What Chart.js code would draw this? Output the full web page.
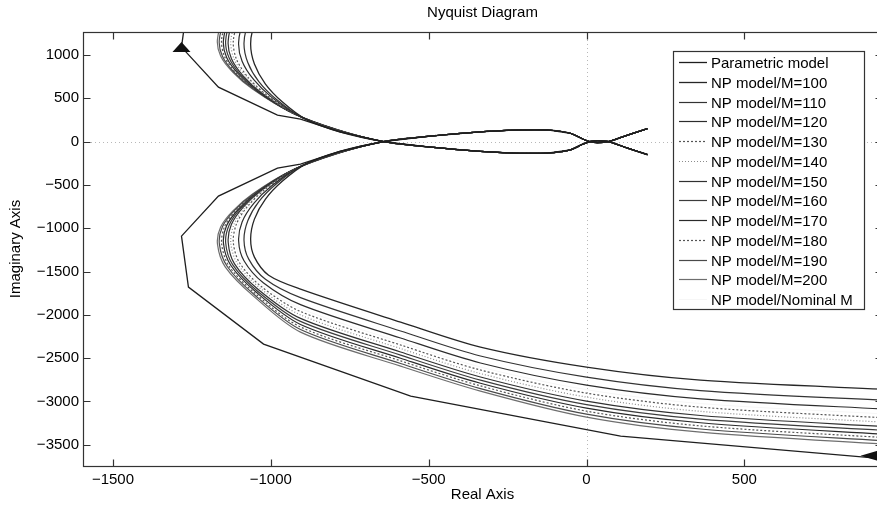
<!DOCTYPE html>
<html>
<head>
<meta charset="utf-8">
<title>Nyquist Diagram</title>
<script src="https://cdn.jsdelivr.net/npm/chart.js@4.4.1/dist/chart.umd.min.js"></script>
<style>
  html, body { margin: 0; padding: 0; background: #fff; overflow: hidden; }
  #wrap { width: 890px; height: 505px; }
</style>
</head>
<body>
<div id="wrap"><canvas id="nyquist" width="890" height="505"></canvas></div>
<script>
// axis ticks
const xTicks = [-1500, -1000, -500, 0, 500];
const yTicks = [-3500, -3000, -2500, -2000, -1500, -1000, -500, 0, 500, 1000];

// positive-frequency branch of every model (Re, Im),
// from the lower right edge round the left bend to the crossing near -643
const paramRe = [1000, 108, -557, -1023, -1261, -1283, -1166, -979, -906, -779, -643];
const paramIm = [-3680, -3401, -2939, -2338, -1680, -1091, -629, -306, -260, -110, 0];

const np100Re = [1000, 361, 0, -336, -589, -906, -1007, -1052, -1064, -1052, -1017, -963, -890, -779, -643];
const np100Im = [-2869, -2754, -2604, -2373, -2084, -1703, -1542, -1334, -1126, -895, -664, -456, -260, -110, 0];
const np110Re = [1000, 361, 0, -336, -589, -906, -1017, -1070, -1085, -1073, -1038, -982, -900, -782, -643];
const np110Im = [-2996, -2874, -2719, -2475, -2186, -1802, -1590, -1357, -1138, -913, -692, -486, -276, -117, 0];
const np120Re = [1000, 361, 0, -336, -589, -906, -1024, -1085, -1102, -1091, -1054, -997, -907, -785, -643];
const np120Im = [-3098, -2970, -2812, -2556, -2267, -1882, -1629, -1375, -1147, -928, -714, -510, -289, -122, 0];
const np130Re = [1000, 361, 0, -336, -589, -906, -1032, -1100, -1119, -1108, -1071, -1012, -915, -787, -643];
const np130Im = [-3200, -3066, -2904, -2637, -2348, -1961, -1668, -1394, -1156, -943, -736, -534, -302, -128, 0];
const np140Re = [1000, 361, 0, -336, -589, -906, -1036, -1107, -1127, -1116, -1079, -1020, -919, -789, -643];
const np140Im = [-3251, -3114, -2950, -2678, -2389, -2001, -1687, -1403, -1161, -950, -747, -546, -309, -130, 0];
const np150Re = [1000, 361, 0, -336, -589, -906, -1040, -1115, -1135, -1125, -1088, -1028, -923, -790, -643];
const np150Im = [-3301, -3162, -2996, -2718, -2429, -2041, -1707, -1412, -1165, -958, -759, -558, -315, -133, 0];
const np160Re = [1000, 361, 0, -336, -589, -906, -1043, -1121, -1143, -1132, -1095, -1034, -926, -791, -643];
const np160Im = [-3346, -3204, -3037, -2754, -2465, -2076, -1724, -1420, -1170, -964, -768, -569, -321, -136, 0];
const np170Re = [1000, 361, 0, -336, -589, -906, -1046, -1127, -1150, -1140, -1102, -1041, -929, -792, -643];
const np170Im = [-3391, -3246, -3077, -2790, -2501, -2111, -1740, -1428, -1174, -970, -778, -579, -326, -138, 0];
const np180Re = [1000, 361, 0, -336, -589, -906, -1049, -1133, -1156, -1146, -1109, -1047, -932, -793, -643];
const np180Im = [-3429, -3282, -3112, -2820, -2531, -2140, -1755, -1435, -1177, -976, -786, -588, -331, -140, 0];
const np190Re = [1000, 361, 0, -336, -589, -906, -1052, -1138, -1163, -1153, -1115, -1052, -935, -794, -643];
const np190Im = [-3467, -3318, -3146, -2851, -2562, -2170, -1769, -1442, -1181, -981, -795, -597, -336, -142, 0];
const np200Re = [1000, 361, 0, -336, -589, -906, -1055, -1144, -1169, -1159, -1121, -1058, -938, -795, -643];
const np200Im = [-3505, -3354, -3181, -2881, -2592, -2200, -1784, -1449, -1184, -987, -803, -606, -341, -144, 0];
const npNomRe = [1000, 361, 0, -336, -589, -906, -1029, -1093, -1111, -1100, -1064, -1006, -912, -786, -643];
const npNomIm = [-3155, -3024, -2864, -2602, -2313, -1927, -1651, -1386, -1152, -936, -727, -524, -296, -125, 0];

// small loop and tail after the crossing, common to all models
const loopRe = [-494, -336, -231, -124, -51, -12, 10, 35, 70, 130, 193];
const loopIm = [64, 113, 133, 134, 96, 30, 0, -12, 0, 75, 150];

// direction arrows on the parametric curve (tip position)
const arrowRe = [-1283, 868];
const arrowIm = [1150, -3626];
const arrowDir = ['up', 'left'];

const curves = [
    { label: 'Parametric model', re: paramRe, im: paramIm, color: '#1e1e1e', dash: [], tension: 0, width: 1.3 },
    { label: 'NP model/M=100', re: np100Re, im: np100Im, color: '#262626', dash: [], tension: 0.3, width: 1.3 },
    { label: 'NP model/M=110', re: np110Re, im: np110Im, color: '#333333', dash: [], tension: 0.3, width: 1.2 },
    { label: 'NP model/M=120', re: np120Re, im: np120Im, color: '#2c2c2c', dash: [], tension: 0.3, width: 1.2 },
    { label: 'NP model/M=130', re: np130Re, im: np130Im, color: '#555555', dash: [2, 2], tension: 0.3, width: 1.2 },
    { label: 'NP model/M=140', re: np140Re, im: np140Im, color: '#8c8c8c', dash: [1, 2], tension: 0.3, width: 1.2 },
    { label: 'NP model/M=150', re: np150Re, im: np150Im, color: '#303030', dash: [], tension: 0.3, width: 1.2 },
    { label: 'NP model/M=160', re: np160Re, im: np160Im, color: '#3c3c3c', dash: [], tension: 0.3, width: 1.2 },
    { label: 'NP model/M=170', re: np170Re, im: np170Im, color: '#2a2a2a', dash: [], tension: 0.3, width: 1.2 },
    { label: 'NP model/M=180', re: np180Re, im: np180Im, color: '#555555', dash: [2, 2], tension: 0.3, width: 1.2 },
    { label: 'NP model/M=190', re: np190Re, im: np190Im, color: '#4a4a4a', dash: [], tension: 0.3, width: 1.2 },
    { label: 'NP model/M=200', re: np200Re, im: np200Im, color: '#6e6e6e', dash: [], tension: 0.3, width: 1.2 },
    { label: 'NP model/Nominal M', re: npNomRe, im: npNomIm, color: '#f6f6f6', dash: [], tension: 0.3, width: 1 }
];

// full Nyquist curve: mirrored (negative frequency) branch, a break, then the branch itself
function nyquistPoints(re, im) {
    const pos = re.map((x, i) => ({ x: x, y: im[i] }));
    const neg = pos.map(p => ({ x: p.x, y: -p.y })).reverse();
    return neg.concat([{ x: null, y: null }], pos);
}

const datasets = curves.map(c => ({
    label: c.label,
    data: nyquistPoints(c.re.concat(loopRe), c.im.concat(loopIm)),
    showLine: true,
    borderColor: c.color,
    borderWidth: c.width,
    borderDash: c.dash,
    tension: c.tension,
    pointRadius: 0,
    fill: false
}));

const FONT = '"Liberation Sans", Arial, Helvetica, sans-serif';
Chart.defaults.font.family = FONT;
Chart.defaults.font.size = 15;
Chart.defaults.color = '#000';

const minus = v => String(v).replace('-', '\u2212');

// dotted real / imaginary axis lines
const zeroLines = {
    id: 'zeroLines',
    beforeDatasetsDraw(chart) {
        const { ctx, chartArea, scales } = chart;
        const x0 = Math.round(scales.x.getPixelForValue(0)) + 0.5;
        const y0 = Math.round(scales.y.getPixelForValue(0)) + 0.5;
        ctx.save();
        ctx.strokeStyle = '#b8b8b8';
        ctx.lineWidth = 1;
        ctx.setLineDash([1, 3]);
        ctx.beginPath();
        ctx.moveTo(x0, chartArea.top);
        ctx.lineTo(x0, chartArea.bottom);
        ctx.moveTo(chartArea.left, y0);
        ctx.lineTo(chartArea.right, y0);
        ctx.stroke();
        ctx.restore();
    }
};

// box with inward ticks on all four sides, plus the arrows
const frame = {
    id: 'frame',
    afterDatasetsDraw(chart) {
        const { ctx, chartArea, scales } = chart;
        const l = Math.round(chartArea.left) + 0.5, r = Math.round(chartArea.right) + 0.5;
        const t = Math.round(chartArea.top) + 0.5, b = Math.round(chartArea.bottom) + 0.5;
        ctx.save();

        ctx.fillStyle = '#111';
        arrowRe.forEach((re, i) => {
            const px = scales.x.getPixelForValue(re);
            const py = scales.y.getPixelForValue(arrowIm[i]);
            ctx.beginPath();
            if (arrowDir[i] === 'up') {
                ctx.moveTo(px, py);
                ctx.lineTo(px - 9, py + 10);
                ctx.lineTo(px + 9, py + 10);
            } else {
                ctx.moveTo(px, py);
                ctx.lineTo(px + 17, py - 5);
                ctx.lineTo(px + 17, py + 5);
            }
            ctx.closePath();
            ctx.fill();
        });

        ctx.strokeStyle = '#333';
        ctx.lineWidth = 1.2;
        ctx.strokeRect(l, t, r - l, b - t);
        ctx.beginPath();
        xTicks.forEach(v => {
            const x = Math.round(scales.x.getPixelForValue(v)) + 0.5;
            ctx.moveTo(x, b); ctx.lineTo(x, b - 7);
            ctx.moveTo(x, t); ctx.lineTo(x, t + 7);
        });
        yTicks.forEach(v => {
            const y = Math.round(scales.y.getPixelForValue(v)) + 0.5;
            ctx.moveTo(l, y); ctx.lineTo(l + 7, y);
            ctx.moveTo(r, y); ctx.lineTo(r - 7, y);
        });
        ctx.stroke();
        ctx.restore();
    }
};

// boxed legend in the upper right corner
const boxLegend = {
    id: 'boxLegend',
    afterDraw(chart) {
        const { ctx, chartArea } = chart;
        const w = 191, rowH = 19.75;
        const h = 258;
        const right = Math.round(chartArea.right) - 18;
        const left = right - w;
        const top = Math.round(chartArea.top) + 19;
        ctx.save();
        ctx.fillStyle = '#fff';
        ctx.fillRect(left, top, w, h);
        ctx.strokeStyle = '#333';
        ctx.lineWidth = 1.2;
        ctx.strokeRect(left + 0.5, top + 0.5, w, h);
        ctx.font = '15px ' + FONT;
        ctx.textBaseline = 'middle';
        curves.forEach((c, i) => {
            const y = Math.round(top + 11 + i * rowH) + 0.5;
            ctx.strokeStyle = c.color;
            ctx.lineWidth = c.width;
            ctx.setLineDash(c.dash);
            ctx.beginPath();
            ctx.moveTo(left + 6, y);
            ctx.lineTo(left + 34, y);
            ctx.stroke();
            ctx.fillStyle = '#000';
            ctx.fillText(c.label, left + 38, y + 1);
        });
        ctx.restore();
    }
};

new Chart(document.getElementById('nyquist'), {
    type: 'scatter',
    data: { datasets: datasets },
    options: {
        responsive: false,
        animation: false,
        events: [],
        layout: { padding: { left: 0, right: 8, top: 0, bottom: 0 } },
        plugins: {
            legend: { display: false },
            tooltip: { enabled: false },
            title: {
                display: true,
                text: 'Nyquist Diagram',
                fullSize: false,
                color: '#000',
                font: { size: 15, weight: 'normal' },
                padding: { top: 4, bottom: 10 }
            }
        },
        scales: {
            x: {
                type: 'linear',
                min: -1595,
                max: 936,
                grid: { display: false, drawTicks: false },
                border: { display: false },
                afterBuildTicks: s => { s.ticks = xTicks.map(v => ({ value: v })); },
                afterFit: s => { s.height = 39; },
                ticks: { padding: 5, color: '#000', callback: minus, maxRotation: 0 },
                title: { display: true, text: 'Real Axis', color: '#000', padding: { top: 0, bottom: 1 } }
            },
            y: {
                type: 'linear',
                min: -3745,
                max: 1265,
                grid: { display: false, drawTicks: false },
                border: { display: false },
                afterBuildTicks: s => { s.ticks = yTicks.map(v => ({ value: v })); },
                afterFit: s => { s.width = 83; },
                ticks: { padding: 4, color: '#000', callback: minus },
                title: { display: true, text: 'Imaginary Axis', color: '#000', padding: { top: 7, bottom: 0 } }
            }
        }
    },
    plugins: [zeroLines, frame, boxLegend]
});
</script>
</body>
</html>
